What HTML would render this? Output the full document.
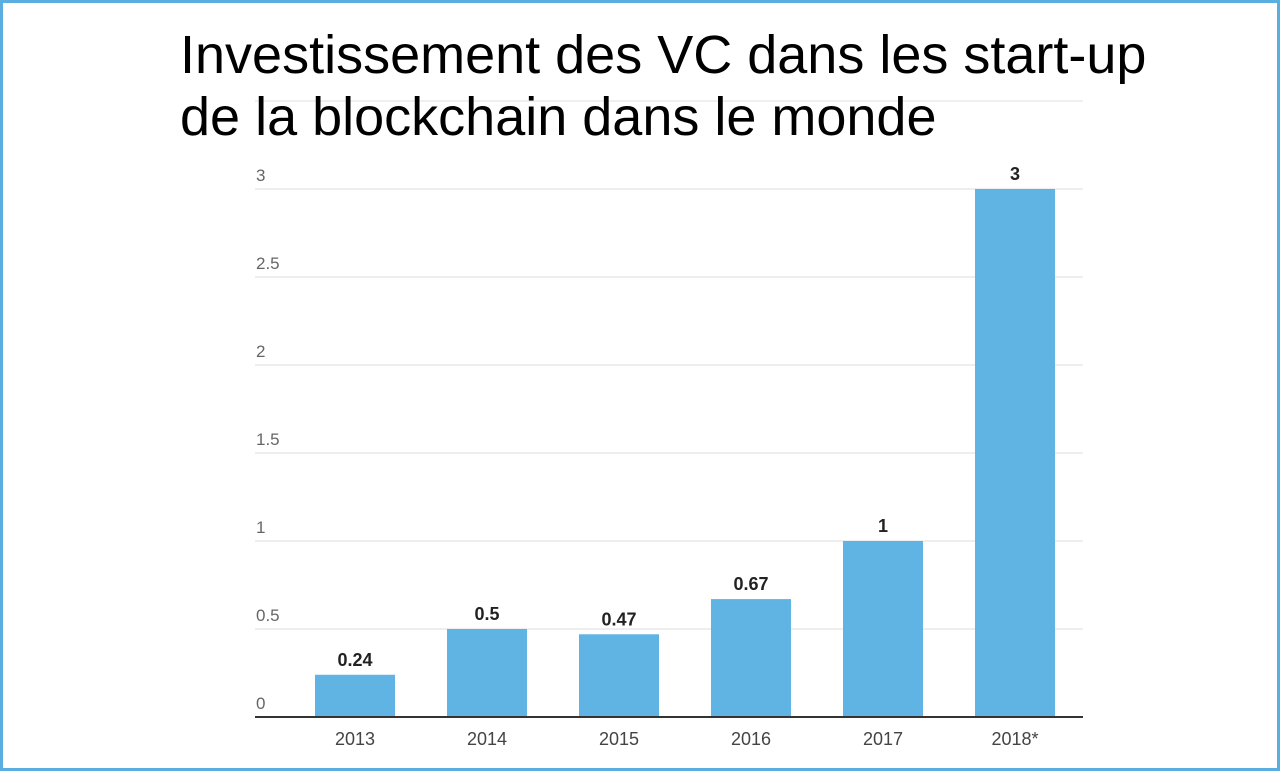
<!DOCTYPE html>
<html><head><meta charset="utf-8"><style>
html,body{margin:0;padding:0;background:#fff}
#wrap{position:relative;width:1274px;height:765px;border:3px solid #5aaee0;overflow:hidden;background:#fff}
svg{position:absolute;left:-3px;top:-3px}
</style></head><body>
<div id="wrap">
<svg id="chart" width="1280" height="771">
<text x="180" y="73" font-family="Liberation Sans, sans-serif" font-size="54" fill="#000">Investissement des VC dans les start-up</text>
<text x="180" y="135" font-family="Liberation Sans, sans-serif" font-size="54" fill="#000">de la blockchain dans le monde</text>
</svg>
</div>
<script>
const categories=["2013","2014","2015","2016","2017","2018*"];
const values=[0.24,0.5,0.47,0.67,1,3];
const valueLabels=["0.24","0.5","0.47","0.67","1","3"];
const ticks=[0,0.5,1,1.5,2,2.5,3];
const tickLabels=["0","0.5","1","1.5","2","2.5","3"];
const svg=document.getElementById('chart');
const NS='http://www.w3.org/2000/svg';
const y0=717,pxPerUnit=176,left=255,right=1083;
function yScale(v){return y0-v*pxPerUnit;}
function xCenter(i){return 355+i*132;}
function mk(tag,attrs){const e=document.createElementNS(NS,tag);for(const k in attrs)e.setAttribute(k,attrs[k]);return e;}
// extra gridline (3.5) behind title
const g35=mk('line',{x1:left,x2:right,y1:yScale(3.5),y2:yScale(3.5),stroke:'#e0e0e0','stroke-width':1});


svg.insertBefore(g35,svg.firstChild);
ticks.forEach((t,i)=>{
  if(t>0){
    const l=mk('line',{x1:left,x2:right,y1:yScale(t),y2:yScale(t),stroke:'#dcdcdc','stroke-width':1});
    
    
    svg.appendChild(l);
  }
  const tx=mk('text',{x:256,y:yScale(t)-8,'font-family':'Liberation Sans, sans-serif','font-size':17,fill:'#666'});
  tx.textContent=tickLabels[i];
  
  
  svg.appendChild(tx);
});
values.forEach((v,i)=>{
  const cx=xCenter(i);
  const r=mk('rect',{x:cx-40,y:yScale(v),width:80,height:v*pxPerUnit,fill:'#5fb4e3'});
  
  
  svg.appendChild(r);
  const vl=mk('text',{x:cx,y:yScale(v)-9,'text-anchor':'middle','font-family':'Liberation Sans, sans-serif','font-size':18,'font-weight':'bold',fill:'#222'});
  vl.textContent=valueLabels[i];
  
  
  svg.appendChild(vl);
  const xl=mk('text',{x:cx,y:745,'text-anchor':'middle','font-family':'Liberation Sans, sans-serif','font-size':18,fill:'#444'});
  xl.textContent=categories[i];
  
  
  svg.appendChild(xl);
});
const base=mk('line',{x1:left,x2:right,y1:y0,y2:y0,stroke:'#333','stroke-width':2});


svg.appendChild(base);
</script>
</body></html>
